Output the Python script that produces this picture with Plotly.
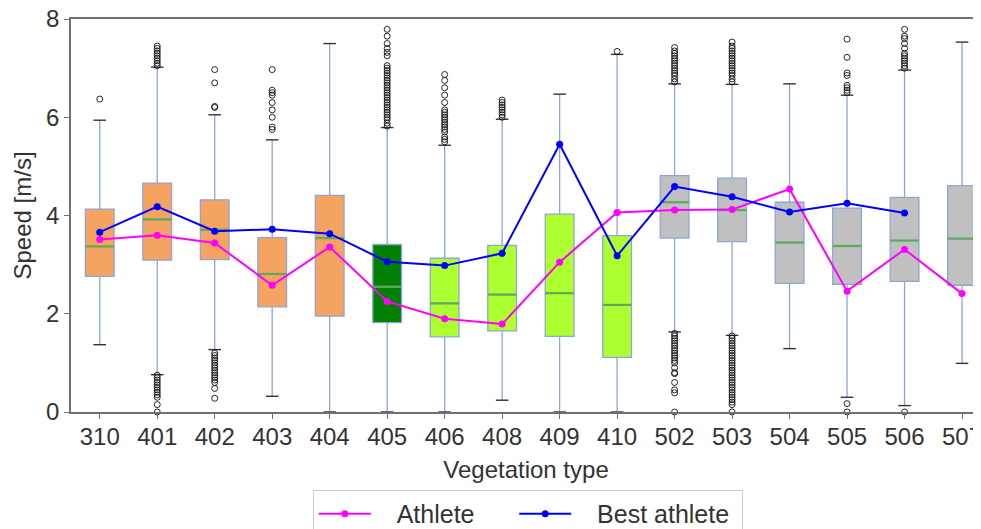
import plotly.graph_objects as go

categories = ["310", "401", "402", "403", "404", "405", "406", "408",
              "409", "410", "502", "503", "504", "505", "506", "507"]
q1 = [2.76, 3.09, 3.10, 2.14, 1.95, 1.82, 1.53, 1.65, 1.54, 1.11, 3.54, 3.47, 2.62, 2.60, 2.66, 2.58]
median = [3.37, 3.92, 3.71, 2.81, 3.54, 2.55, 2.21, 2.39, 2.42, 2.18, 4.27, 4.11, 3.45, 3.38, 3.49, 3.53]
q3 = [4.13, 4.66, 4.32, 3.55, 4.41, 3.41, 3.13, 3.39, 4.03, 3.59, 4.81, 4.76, 4.27, 4.15, 4.37, 4.61]
lower_whisker = [1.37, 0.76, 1.27, 0.32, 0.0, 0.0, 0.0, 0.24, 0.0, 0.0, 1.63, 1.56, 1.29, 0.30, 0.13, 0.99]
upper_whisker = [5.94, 7.02, 6.05, 5.54, 7.50, 5.79, 5.43, 5.96, 6.47, 7.28, 6.68, 6.67, 6.68, 6.45, 6.96, 7.53]
box_colors = ["#F4A460"] * 5 + ["#008000"] + ["#ADFF2F"] * 4 + ["#C0C0C0"] * 6

athlete = [3.51, 3.60, 3.44, 2.58, 3.36, 2.25, 1.90, 1.79, 3.05, 4.06, 4.11, 4.12, 4.54, 2.46, 3.31, 2.41]
best_athlete = [3.66, 4.18, 3.68, 3.72, 3.63, 3.06, 2.98, 3.23, 5.45, 3.18, 4.59, 4.38, 4.07, 4.25, 4.05, None]

outliers = {
    "310": [6.37],
    "401": [7.05, 7.1, 7.15, 7.2, 7.25, 7.3, 7.35, 7.4, 7.45,
            0.0, 0.15, 0.3, 0.35, 0.4, 0.45, 0.5, 0.55, 0.6, 0.65, 0.7, 0.75],
    "402": [6.2, 6.22, 6.7, 6.97,
            0.28, 0.48, 0.6, 0.65, 0.7, 0.75, 0.8, 0.85, 0.9, 0.95, 1.0, 1.05, 1.1, 1.15, 1.2],
    "403": [5.75, 5.8, 6.0, 6.15, 6.3, 6.45, 6.5, 6.55, 6.97],
    "405": [5.82, 5.88, 5.95, 6.0, 6.05, 6.1, 6.15, 6.2, 6.25, 6.3, 6.35, 6.4, 6.45, 6.5,
            6.55, 6.6, 6.65, 6.7, 6.75, 6.8, 6.85, 6.9, 6.95, 7.0, 7.05, 7.25, 7.32, 7.4,
            7.5, 7.65, 7.79],
    "406": [5.5, 5.55, 5.6, 5.7, 5.75, 5.8, 5.85, 5.9, 5.95, 6.0, 6.05, 6.1, 6.15,
            6.3, 6.45, 6.6, 6.75, 6.87],
    "408": [6.0, 6.05, 6.1, 6.15, 6.2, 6.25, 6.3, 6.35],
    "410": [7.34],
    "502": [6.72, 6.78, 6.85, 6.9, 6.95, 7.0, 7.05, 7.1, 7.15, 7.2, 7.25, 7.3, 7.35, 7.42,
            0.0, 0.39, 0.45, 0.6, 0.78, 0.8, 0.9, 1.0, 1.05, 1.1, 1.15, 1.2, 1.25, 1.3,
            1.35, 1.4, 1.45, 1.5, 1.55, 1.6],
    "503": [6.72, 6.78, 6.85, 6.9, 6.95, 7.0, 7.05, 7.1, 7.15, 7.2, 7.25, 7.3, 7.35, 7.4,
            7.45, 7.53,
            0.0, 0.15, 0.2, 0.25, 0.3, 0.35, 0.4, 0.45, 0.5, 0.55, 0.6, 0.65, 0.7, 0.75,
            0.8, 0.85, 0.9, 0.95, 1.0, 1.05, 1.1, 1.15, 1.2, 1.25, 1.3, 1.35, 1.4, 1.45,
            1.5, 1.55],
    "505": [6.5, 6.55, 6.6, 6.65, 6.85, 6.9, 7.22, 7.59, 0.17, 0.0],
    "506": [7.0, 7.05, 7.1, 7.15, 7.2, 7.25, 7.3, 7.4, 7.5, 7.6, 7.65, 7.79, 0.0],
}

FONT = "Liberation Sans, Arial, sans-serif"
TEXT = "#333333"
EDGE = "#8EA6D6"
MEDIAN = "#5DAA5D"
NB = "\u00a0"

fig = go.Figure()

# boxes grouped by fill colour
for col in dict.fromkeys(box_colors):
    idx = [i for i, c in enumerate(box_colors) if c == col]
    fig.add_trace(go.Box(
        x=[categories[i] for i in idx],
        q1=[q1[i] for i in idx],
        median=[median[i] for i in idx],
        q3=[q3[i] for i in idx],
        lowerfence=[lower_whisker[i] for i in idx],
        upperfence=[upper_whisker[i] for i in idx],
        fillcolor=col,
        line=dict(color=EDGE, width=1.3),
        whiskerwidth=0,
        width=0.5,
        boxpoints=False,
        showlegend=False,
        hoverinfo="skip",
    ))

# medians
fig.add_trace(go.Scatter(
    x=categories, y=median, mode="markers",
    marker=dict(symbol="line-ew", size=20.5, line=dict(color=MEDIAN, width=2.2)),
    showlegend=False, hoverinfo="skip",
))

# whisker caps
fig.add_trace(go.Scatter(
    x=categories + categories, y=lower_whisker + upper_whisker, mode="markers",
    marker=dict(symbol="line-ew", size=9, line=dict(color="#333333", width=1.4)),
    showlegend=False, hoverinfo="skip", cliponaxis=False,
))

# outliers
ox, oy = [], []
for k, vals in outliers.items():
    ox += [k] * len(vals)
    oy += vals
fig.add_trace(go.Scatter(
    x=ox, y=oy, mode="markers",
    marker=dict(symbol="circle-open", size=6, color="#111111", line=dict(width=0.9)),
    showlegend=False, hoverinfo="skip", cliponaxis=False,
))

fig.add_trace(go.Scatter(
    x=categories, y=athlete, mode="lines+markers", name=NB * 3 + "Athlete" + NB * 5,
    line=dict(color="#FF00FF", width=2), marker=dict(size=7, color="#FF00FF"),
))
fig.add_trace(go.Scatter(
    x=categories, y=best_athlete, mode="lines+markers", name=NB * 3 + "Best athlete" + NB,
    line=dict(color="#0000FF", width=2), marker=dict(size=7, color="#0000FF"),
))

fig.update_layout(
    width=973, height=521,
    margin=dict(l=63, r=0, t=11, b=117),
    paper_bgcolor="white", plot_bgcolor="white",
    boxmode="overlay",
    font=dict(family=FONT, size=24, color=TEXT),
    legend=dict(
        orientation="h", xref="paper", x=0.502, xanchor="center",
        yref="container", y=0.0749, yanchor="top",
        bordercolor="#CCCCCC", borderwidth=1, bgcolor="white",
        font=dict(size=25, color=TEXT), itemwidth=52,
    ),
    xaxis=dict(
        type="category", categoryorder="array", categoryarray=categories,
        range=[-0.5, 15.33], automargin=False,
        showline=True, linecolor="#707070", linewidth=1.5, mirror=True,
        ticks="outside", ticklen=5, tickcolor="#707070", tickwidth=1.2,
        showgrid=False, zeroline=False, ticklabeloverflow="allow",
        ticklabelstandoff=-3,
        tickfont=dict(size=24, color=TEXT),
        title=dict(text="Vegetation type", font=dict(size=24, color=TEXT), standoff=13),
    ),
    yaxis=dict(
        range=[0, 8], tickvals=[0, 2, 4, 6, 8], automargin=False,
        showline=True, linecolor="#707070", linewidth=1.5,
        ticks="outside", ticklen=5, tickcolor="#707070", tickwidth=1.2,
        showgrid=False, zeroline=False, ticklabeloverflow="allow",
        tickfont=dict(size=24, color=TEXT),
        title=dict(text="Speed [m/s]", font=dict(size=24, color=TEXT), standoff=8),
    ),
)

fig.write_html("out.html")
